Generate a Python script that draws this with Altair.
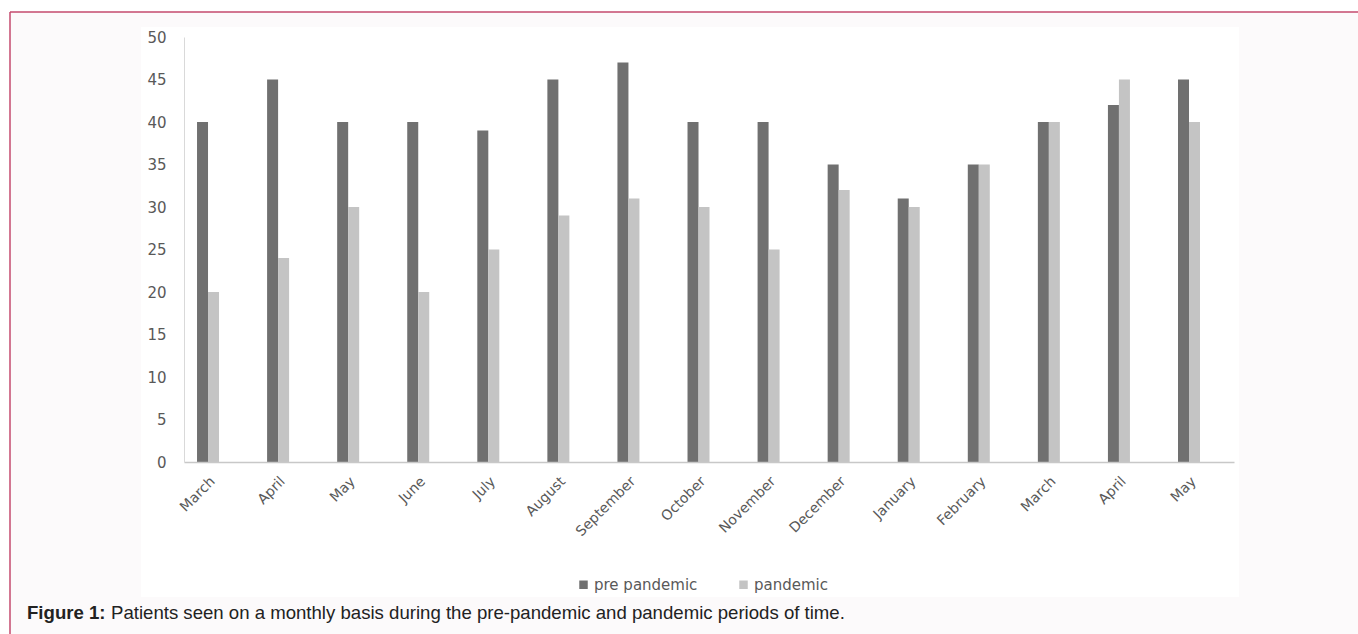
import json
import altair as alt
import pandas as pd

# ---- data ----
months = ["March", "April", "May", "June", "July", "August", "September",
          "October", "November", "December", "January", "February",
          "March", "April", "May"]
pre_pandemic = [40, 45, 40, 40, 39, 45, 47, 40, 40, 35, 31, 35, 40, 42, 45]
pandemic = [20, 24, 30, 20, 25, 29, 31, 30, 25, 32, 30, 35, 40, 45, 40]
series_names = ["pre pandemic", "pandemic"]
y_ticks = [0, 5, 10, 15, 20, 25, 30, 35, 40, 45, 50]
caption_bold = "Figure 1:"
caption_rest = "Patients seen on a monthly basis during the pre-pandemic and pandemic periods of time."

rows = []
for i, m in enumerate(months):
    rows.append({"idx": i, "month": m, "series": series_names[0], "value": pre_pandemic[i]})
    rows.append({"idx": i, "month": m, "series": series_names[1], "value": pandemic[i]})
df = pd.DataFrame(rows)

label_expr = json.dumps(months) + "[datum.value]"

W, H = 1050, 425
PAD = {"left": 184, "top": 37, "right": 1358 - 184 - W, "bottom": 634 - 37 - H}
one = alt.Data(values=[{}])

# decorative page background inside the frame
page_bg = alt.Chart(one).mark_rect(color="#fcfafb").encode(
    x=alt.value(-174), x2=alt.value(1180), y=alt.value(-25), y2=alt.value(600))

# white chart panel
panel = alt.Chart(one).mark_rect(color="#ffffff").encode(
    x=alt.value(-43), x2=alt.value(1055), y=alt.value(-10), y2=alt.value(560))

frame_top = alt.Chart(one).mark_rule(color="#c44a6e", strokeWidth=1.5).encode(
    x=alt.value(-174), x2=alt.value(1180), y=alt.value(-25))
frame_left = alt.Chart(one).mark_rule(color="#c44a6e", strokeWidth=1.5).encode(
    x=alt.value(-174), y=alt.value(-25), y2=alt.value(600))

bars = alt.Chart(df).mark_bar().encode(
    x=alt.X("idx:O",
            scale=alt.Scale(paddingInner=0.686, paddingOuter=0.3355, align=0.277),
            axis=alt.Axis(title=None, labelExpr=label_expr, labelAngle=-45,
                          labelAlign="right", labelBaseline="top",
                          labelPadding=12, ticks=False, domainColor="#c8c8c8",
                          domainWidth=1.5, labelFont="DejaVu Sans",
                          labelFontSize=14, labelColor="#595959", zindex=1)),
    xOffset=alt.XOffset("series:N",
                        scale=alt.Scale(domain=series_names, paddingInner=0, paddingOuter=0)),
    y=alt.Y("value:Q",
            scale=alt.Scale(domain=[0, 50], nice=False),
            axis=alt.Axis(title=None, values=y_ticks, ticks=False, grid=False,
                          domainColor="#d9d9d9", labelPadding=18,
                          labelFont="DejaVu Sans", labelFontSize=15,
                          labelColor="#595959", zindex=1)),
    color=alt.Color("series:N",
                    scale=alt.Scale(domain=series_names, range=["#707070", "#c4c4c4"]),
                    legend=alt.Legend(title=None, orient="none", legendX=392, legendY=540,
                                      direction="horizontal", symbolType="square",
                                      symbolSize=72, symbolStrokeWidth=0,
                                      labelFont="DejaVu Sans", labelFontSize=15,
                                      labelColor="#595959", labelOffset=3,
                                      columnPadding=38, padding=0)),
)

cap1 = alt.Chart(alt.Data(values=[{"t": caption_bold}])).mark_text(
    align="left", baseline="alphabetic", font="Liberation Sans", fontSize=18.6,
    fontWeight="bold", color="#222222").encode(
    x=alt.value(-157), y=alt.value(582), text="t:N")
cap2 = alt.Chart(alt.Data(values=[{"t": caption_rest}])).mark_text(
    align="left", baseline="alphabetic", font="Liberation Sans", fontSize=18.6,
    color="#222222").encode(
    x=alt.value(-73), y=alt.value(582), text="t:N")

chart = alt.layer(page_bg, panel, frame_top, frame_left, bars, cap1, cap2).properties(
    width=W, height=H, padding=PAD, autosize=alt.AutoSizeParams(type="none"),
    background="#ffffff"
).configure_view(stroke=None)

chart.save("out.html", embed_options={"renderer": "svg", "actions": False})
